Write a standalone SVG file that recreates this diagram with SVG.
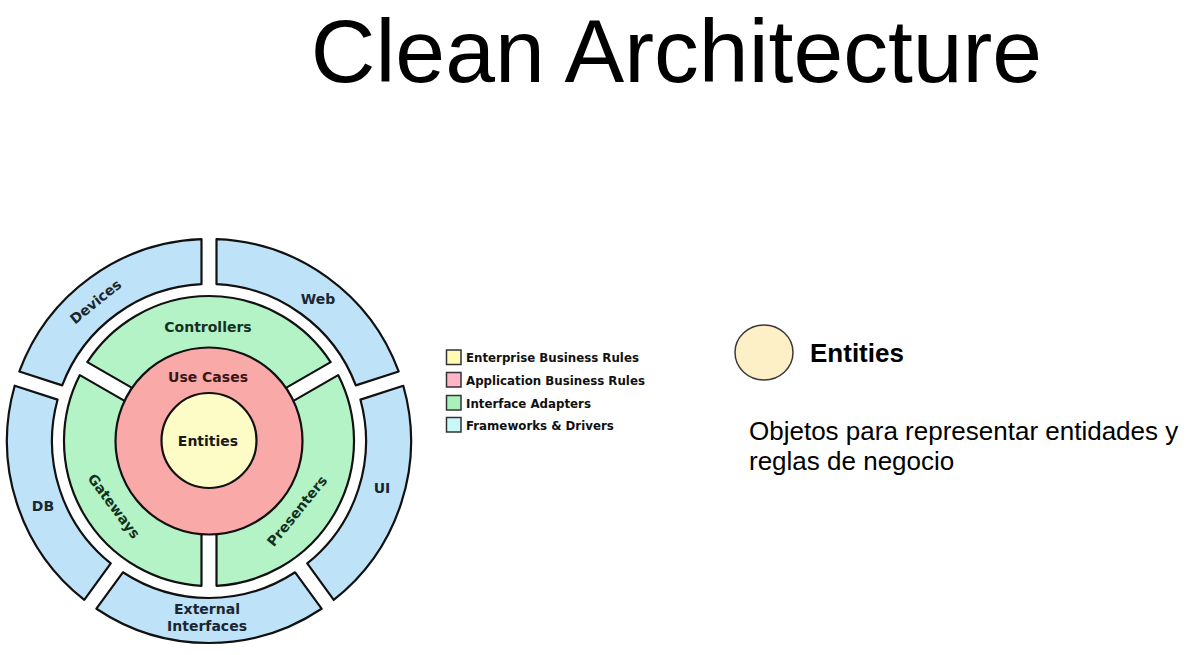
<svg xmlns="http://www.w3.org/2000/svg" width="1203" height="655" viewBox="0 0 1203 655">
<style>
.blue{fill:#bee3f8;stroke:#111;stroke-width:2.2;stroke-linejoin:round}
.green{fill:#b3f3c6;stroke:#111;stroke-width:2.2;stroke-linejoin:round}
.red{fill:#f8a9a8;stroke:#111;stroke-width:2.2}
.yellow{fill:#fdfcc6;stroke:#111;stroke-width:2.2}
.lbl{font-family:"DejaVu Sans",sans-serif;font-weight:bold;font-size:14px;text-anchor:middle}
.lb{fill:#1a2632}
.lg{fill:#16301f}
.lr{fill:#3a1616}
.leg{font-family:"DejaVu Sans",sans-serif;font-weight:bold;font-size:11.8px;fill:#111}
.box{stroke:#333;stroke-width:1.5}
.note{font-family:"Liberation Sans",Arial,sans-serif;font-size:26px;fill:#000}
</style>
<rect width="1203" height="655" fill="#ffffff"/>
<text id="title" x="676.5" y="82" font-family="Liberation Sans, Arial, sans-serif" font-size="89.5" text-anchor="middle" fill="#000">Clean Architecture</text>
<g id="onion" transform="translate(209,441)">
  <g id="web"><path class="blue" d="M189.66,-69.51 A202,202 0 0 0 7.5,-201.86 L7.5,-156.82 A157,157 0 0 1 146.83,-55.59 Z"/></g>
  <g id="devices"><path class="blue" d="M-7.5,-201.86 A202,202 0 0 0 -189.66,-69.51 L-146.83,-55.59 A157,157 0 0 1 -7.5,-156.82 Z"/></g>
  <g id="db"><path class="blue" d="M-194.30,-55.25 A202,202 0 0 0 -124.72,158.90 L-98.25,122.46 A157,157 0 0 1 -151.46,-41.33 Z"/></g>
  <g id="external"><path class="blue" d="M-112.58,167.72 A202,202 0 0 0 112.58,167.72 L86.11,131.28 A157,157 0 0 1 -86.11,131.28 Z"/></g>
  <g id="ui"><path class="blue" d="M124.72,158.90 A202,202 0 0 0 194.30,-55.25 L151.46,-41.33 A157,157 0 0 1 98.25,122.46 Z"/></g>
  <g id="controllers"><path class="green" d="M121.66,-78.90 A145,145 0 0 0 -121.66,-78.90 L-73.92,-51.34 A90,90 0 0 1 73.92,-51.34 Z"/></g>
  <g id="gateways"><path class="green" d="M-129.16,-65.91 A145,145 0 0 0 -7.5,144.81 L-7.5,89.69 A90,90 0 0 1 -81.42,-38.35 Z"/></g>
  <g id="presenters"><path class="green" d="M7.5,144.81 A145,145 0 0 0 129.16,-65.91 L81.42,-38.35 A90,90 0 0 1 7.5,89.69 Z"/></g>
  <g id="usecases"><circle class="red" cx="0" cy="0" r="93.5"/></g>
  <g id="entities"><circle class="yellow" cx="0" cy="-0.5" r="47.5"/></g>
</g>
<g id="onion-labels">
  <text class="lbl lb" transform="translate(95.5,301.5) rotate(-39)" y="5">Devices</text>
  <text class="lbl lb" x="318" y="304">Web</text>
  <text class="lbl lb" x="382" y="493">UI</text>
  <text class="lbl lb" x="43" y="511">DB</text>
  <text class="lbl lb" x="207" y="614">External<tspan x="207" dy="17">Interfaces</tspan></text>
  <text class="lbl lg" x="208" y="332">Controllers</text>
  <text class="lbl lg" transform="translate(114,506) rotate(53)" y="5">Gateways</text>
  <text class="lbl lg" transform="translate(297,511) rotate(-51)" y="5">Presenters</text>
  <text class="lbl lr" x="208" y="382">Use Cases</text>
  <text class="lbl" x="208" y="446" fill="#1a1a1a">Entities</text>
</g>
<g id="legend">
  <rect class="box" x="446.5" y="350" width="14.5" height="14.5" fill="#fffbb5"/>
  <text class="leg" x="466" y="362">Enterprise Business Rules</text>
  <rect class="box" x="446.5" y="372.5" width="14.5" height="14.5" fill="#ffb5c5"/>
  <text class="leg" x="466" y="385">Application Business Rules</text>
  <rect class="box" x="446.5" y="395.5" width="14.5" height="14.5" fill="#a9f1ba"/>
  <text class="leg" x="466" y="407.5">Interface Adapters</text>
  <rect class="box" x="446.5" y="417.5" width="14.5" height="14.5" fill="#c9f8f8"/>
  <text class="leg" x="466" y="429.5">Frameworks &amp; Drivers</text>
</g>
<g id="entities-note">
  <ellipse cx="764" cy="352.5" rx="29" ry="27.5" fill="#fdefc6" stroke="#3a3a3a" stroke-width="1.5"/>
  <text x="810" y="362" font-family="Liberation Sans, Arial, sans-serif" font-weight="bold" font-size="26" fill="#000">Entities</text>
  <text class="note" x="749" y="440">Objetos para representar entidades y<tspan x="749" dy="30">reglas de negocio</tspan></text>
</g>
</svg>
